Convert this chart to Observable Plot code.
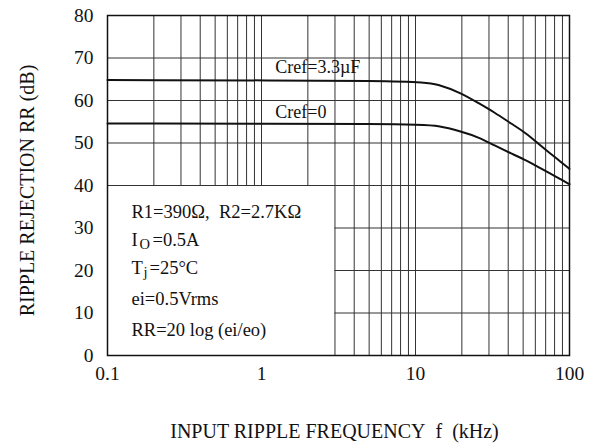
<!DOCTYPE html>
<html><head><meta charset="utf-8">
<script src="https://cdn.jsdelivr.net/npm/d3@7"></script>
<script src="https://cdn.jsdelivr.net/npm/@observablehq/plot@0.6"></script>
<style>
body{margin:0;background:#fff}
#chart svg, #chart svg text{font-family:"Liberation Serif","Times New Roman",serif !important;font-variant-numeric:normal !important;}
</style>
</head><body><div id="chart"></div>
<script>
// ---- data ----
const freqTicks = [0.1, 1, 10, 100];
const rrTicks = [0, 10, 20, 30, 40, 50, 60, 70, 80];
const gridFreqs = [0.2,0.3,0.4,0.5,0.6,0.7,0.8,0.9,1,2,3,4,5,6,7,8,9,10,20,30,40,50,60,70,80,90];
const gridRR = [10, 20, 30, 40, 50, 60, 70];

const cref33Freq = [0.1, 10, 14.1, 19.9, 25.6, 32.6, 42, 52.4, 62.9, 75.3, 86.1, 100];
const cref33RR   = [64.8, 64.7, 63.9, 61.7, 59.4, 57.2, 54.5, 52.3, 49.8, 47.5, 45.8, 43.9];
const cref0Freq  = [0.1, 10, 14.1, 19.9, 25.6, 32.6, 42, 52.4, 62.9, 75.3, 86.1, 100];
const cref0RR    = [54.6, 54.5, 54.1, 52.7, 51.4, 49.4, 47.5, 45.9, 44.3, 42.8, 41.6, 40.3];

const seriesLabels = ["Cref=3.3\u00b5F", "Cref=0"];
const labelFreq = [1.23, 1.23];
const labelRR = [66.4, 55.8];

const noteMain = ["R1=390\u03a9,\u00a0\u00a0R2=2.7K\u03a9", "I", "T", "ei=0.5Vrms", "RR=20 log (ei/eo)"];
const noteRR = [32.3, 25.7, 19.1, 11.8, 4.7];
const xTitle = "INPUT RIPPLE FREQUENCY\u00a0\u00a0f\u00a0\u00a0(kHz)";
const yTitle = "RIPPLE REJECTION RR (dB)";

// ---- build ----
const series = [
  ...cref33Freq.map((f, i) => ({f, rr: cref33RR[i], s: "3.3"})),
  ...cref0Freq.map((f, i) => ({f, rr: cref0RR[i], s: "0"}))
];
const notes = noteMain.map((t, i) => ({t, rr: noteRR[i]}));
const boxFreq = 3, boxRR = 40;
const font = "Liberation Serif";
const ink = "#111";
const noteSize = 18.5;

const chart = Plot.plot({
  width: 595, height: 444,
  marginLeft: 107, marginRight: 26, marginTop: 15, marginBottom: 89,
  style: {fontFamily: font, fontSize: "19px", background: "#fff", color: ink},
  x: {type: "log", domain: [0.1, 100]},
  y: {domain: [0, 80]},
  marks: [
    Plot.ruleX(gridFreqs, {x: d => d, y1: d => d < boxFreq ? boxRR : 0, y2: 80, stroke: "#333", strokeWidth: 1}),
    Plot.ruleY(gridRR, {y: d => d, x1: d => d < boxRR ? boxFreq : 0.1, x2: 100, stroke: "#333", strokeWidth: 1}),
    Plot.line(series, {x: "f", y: "rr", z: "s", curve: "basis", stroke: ink, strokeWidth: 2}),
    Plot.text(seriesLabels, {x: (d, i) => labelFreq[i], y: (d, i) => labelRR[i], text: d => d,
      textAnchor: "start", lineAnchor: "bottom", fontSize: 18, fontFamily: font, fill: ink}),
    Plot.text(notes, {x: () => 0.1, y: "rr", text: "t", dx: 24, textAnchor: "start", lineAnchor: "bottom", fontSize: noteSize, fontFamily: font, fill: ink}),
    Plot.text(["O"], {x: () => 0.1, y: () => noteRR[1], text: d => d, dx: 32, dy: 3, textAnchor: "start", lineAnchor: "bottom", fontSize: 14.5, fontFamily: font, fill: ink}),
    Plot.text(["=0.5A"], {x: () => 0.1, y: () => noteRR[1], text: d => d, dx: 45, textAnchor: "start", lineAnchor: "bottom", fontSize: noteSize, fontFamily: font, fill: ink}),
    Plot.text(["j"], {x: () => 0.1, y: () => noteRR[2], text: d => d, dx: 36, dy: 3, textAnchor: "start", lineAnchor: "bottom", fontSize: 14.5, fontFamily: font, fill: ink}),
    Plot.text(["=25\u00b0C"], {x: () => 0.1, y: () => noteRR[2], text: d => d, dx: 42, textAnchor: "start", lineAnchor: "bottom", fontSize: noteSize, fontFamily: font, fill: ink}),
    Plot.frame({stroke: ink, strokeWidth: 1.5}),
    Plot.axisX(freqTicks, {tickSize: 0, tickPadding: 11, fontSize: 19.5, fontFamily: font, tickFormat: d => String(d), label: null}),
    Plot.axisY(rrTicks, {tickSize: 0, tickPadding: 14, fontSize: 19.5, fontFamily: font, label: null}),
    Plot.text([xTitle], {frameAnchor: "bottom", lineAnchor: "bottom", dy: 82, dx: -4, text: d => d, fontSize: 20, fontFamily: font, fill: ink}),
    Plot.text([yTitle], {frameAnchor: "left", textAnchor: "middle", rotate: -90, dx: -80, dy: 5, text: d => d, fontSize: 20, fontFamily: font, fill: ink})
  ]
});
document.getElementById("chart").append(chart);
</script>
</body></html>
